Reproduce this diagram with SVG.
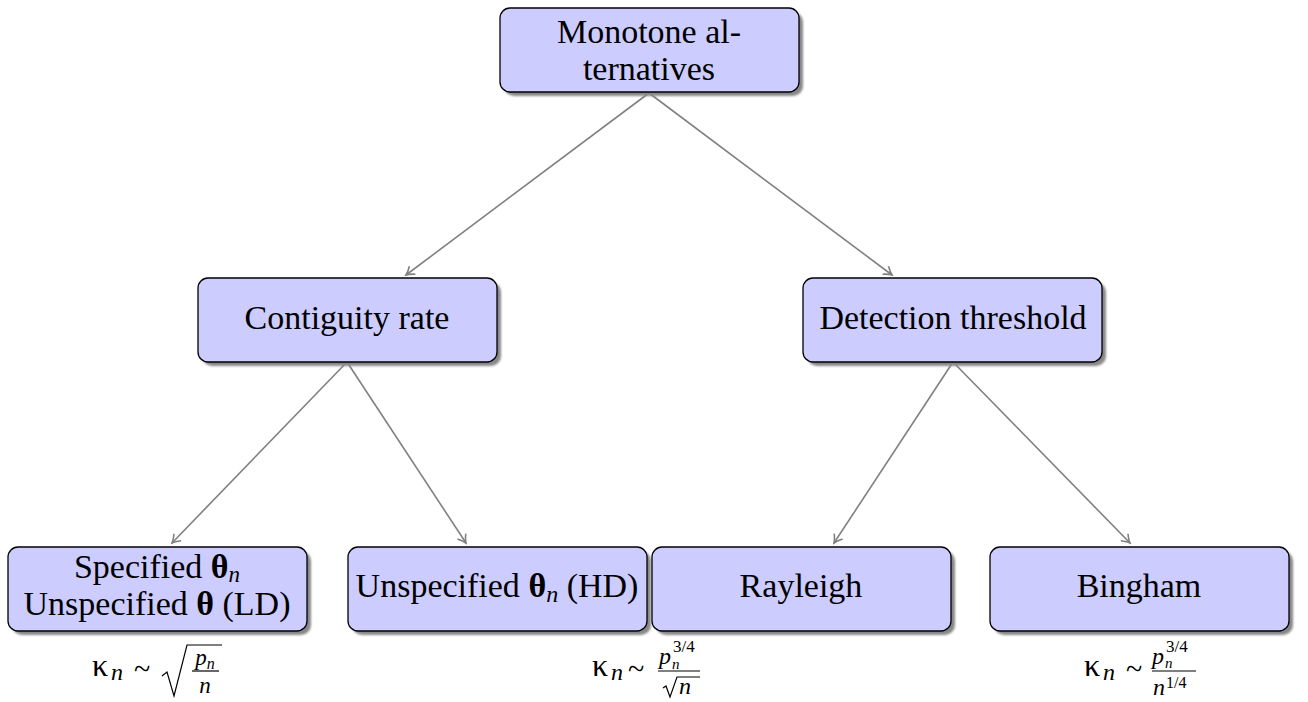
<svg xmlns="http://www.w3.org/2000/svg" width="1308" height="702" viewBox="0 0 1308 702">
<defs>
<style>
.box{fill:#ccccff;stroke:#000;stroke-width:1.3}
.sh{fill:#888;filter:url(#blur)}
.t{font-family:"Liberation Serif",serif;font-size:34px;fill:#000;text-anchor:middle}
.m{font-family:"Liberation Serif",serif;fill:#000}
.e{stroke:#808080;stroke-width:1.6;fill:none;marker-end:url(#arr)}
.ml{stroke:#000;stroke-width:1.2;fill:none}
</style>
<filter id="blur" x="-10%" y="-10%" width="120%" height="120%"><feGaussianBlur stdDeviation="1.2"/></filter>
<marker id="arr" viewBox="-10 -6 12 12" refX="0" refY="0" markerWidth="12" markerHeight="12" markerUnits="userSpaceOnUse" orient="auto">
<path d="M-8,-5 Q-3,-1 0,0 Q-3,1 -8,5" stroke="#808080" stroke-width="1.6" fill="none"/>
</marker>
</defs>
<g id="connectors">
<line class="e" x1="649" y1="93" x2="406" y2="275"/>
<line class="e" x1="649" y1="93" x2="892" y2="275"/>
<line class="e" x1="347" y1="362" x2="172" y2="543"/>
<line class="e" x1="347" y1="362" x2="466" y2="543"/>
<line class="e" x1="953" y1="362" x2="834" y2="543"/>
<line class="e" x1="953" y1="362" x2="1130" y2="543"/>
</g>
<g id="n-top">
<rect class="sh" x="504" y="12" width="299" height="84" rx="10"/>
<rect class="box" x="500" y="8" width="299" height="84" rx="10"/>
<text class="t" x="649" y="43">Monotone al-</text>
<text class="t" x="649" y="80">ternatives</text>
</g>
<g id="n-contiguity">
<rect class="sh" x="202" y="282" width="299" height="84" rx="10"/>
<rect class="box" x="198" y="278" width="299" height="84" rx="10"/>
<text class="t" x="347" y="329">Contiguity rate</text>
</g>
<g id="n-detection">
<rect class="sh" x="807" y="282" width="299" height="84" rx="10"/>
<rect class="box" x="803" y="278" width="299" height="84" rx="10"/>
<text class="t" x="953" y="329">Detection threshold</text>
</g>
<g id="n-specified">
<rect class="sh" x="12" y="551" width="299" height="84" rx="10"/>
<rect class="box" x="8" y="547" width="299" height="84" rx="10"/>
<text class="t" x="157" y="578">Specified <tspan font-weight="bold">θ</tspan><tspan font-style="italic" font-size="23" dy="4">n</tspan></text>
<text class="t" x="157" y="615">Unspecified <tspan font-weight="bold">θ</tspan> (LD)</text>
</g>
<g id="n-unspecified">
<rect class="sh" x="352" y="551" width="299" height="84" rx="10"/>
<rect class="box" x="348" y="547" width="299" height="84" rx="10"/>
<text class="t" x="497" y="597">Unspecified <tspan font-weight="bold">θ</tspan><tspan font-style="italic" font-size="24" dy="5">n</tspan><tspan dy="-5">  (HD)</tspan></text>
</g>
<g id="n-rayleigh">
<rect class="sh" x="656" y="551" width="299" height="84" rx="10"/>
<rect class="box" x="652" y="547" width="299" height="84" rx="10"/>
<text class="t" x="801" y="597">Rayleigh</text>
</g>
<g id="n-bingham">
<rect class="sh" x="994" y="551" width="299" height="84" rx="10"/>
<rect class="box" x="990" y="547" width="299" height="84" rx="10"/>
<text class="t" x="1139" y="597">Bingham</text>
</g>
<g id="formula-1">
<text class="m" x="92" y="676" font-size="32">κ</text>
<text class="m" x="111" y="680" font-size="24" font-style="italic">n</text>
<text class="m" x="134" y="679" font-size="30">~</text>
<path class="ml" d="M162,676 L167,672 L174,696 L187,645 L222,645"/>
<text class="m" x="205" y="665" font-size="23" font-style="italic" text-anchor="middle">p<tspan font-size="16" dy="4">n</tspan></text>
<line class="ml" x1="192" y1="671" x2="219" y2="671"/>
<text class="m" x="205" y="693" font-size="23" font-style="italic" text-anchor="middle">n</text>
</g>
<g id="formula-2">
<text class="m" x="592" y="676" font-size="32">κ</text>
<text class="m" x="611" y="680" font-size="24" font-style="italic">n</text>
<text class="m" x="628" y="679" font-size="30">~</text>
<text class="m" x="659" y="664" font-size="24" font-style="italic">p</text>
<text class="m" x="672" y="669" font-size="15" font-style="italic">n</text>
<text class="m" x="673" y="652" font-size="17">3/4</text>
<line class="ml" x1="658" y1="671" x2="700" y2="671"/>
<path class="ml" d="M663,688 L666,686 L670,697 L677,677 L700,677"/>
<text class="m" x="679" y="694" font-size="24" font-style="italic">n</text>
</g>
<g id="formula-3">
<text class="m" x="1084" y="676" font-size="32">κ</text>
<text class="m" x="1103" y="680" font-size="24" font-style="italic">n</text>
<text class="m" x="1126" y="679" font-size="30">~</text>
<text class="m" x="1152" y="664" font-size="24" font-style="italic">p</text>
<text class="m" x="1165" y="668" font-size="15" font-style="italic">n</text>
<text class="m" x="1166" y="652" font-size="17">3/4</text>
<line class="ml" x1="1152" y1="671" x2="1196" y2="671"/>
<text class="m" x="1153" y="695" font-size="24" font-style="italic">n</text>
<text class="m" x="1166" y="688" font-size="16">1/4</text>
</g>
</svg>
